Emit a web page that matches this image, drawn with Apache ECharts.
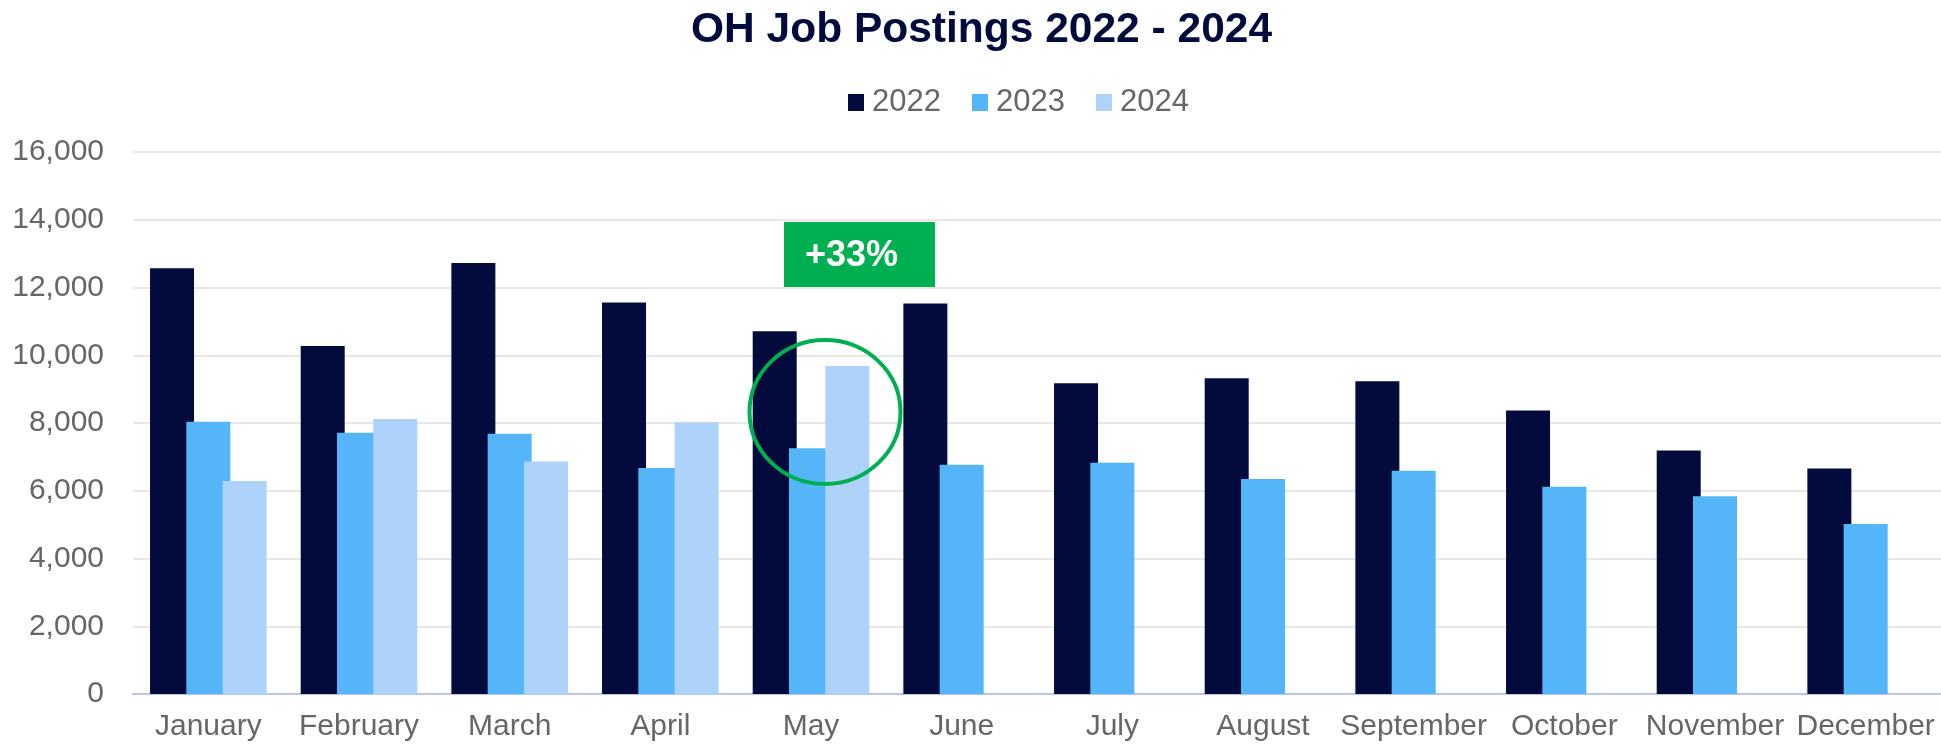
<!DOCTYPE html>
<html>
<head>
<meta charset="utf-8">
<script src="https://cdn.jsdelivr.net/npm/echarts@6/dist/echarts.min.js"></script>
<style>
html,body{margin:0;padding:0;background:#fff;}
#chart{width:1941px;height:744px;}
</style>
</head>
<body>
<div id="chart"></div>
<script>
const months = ['January','February','March','April','May','June','July','August','September','October','November','December'];
const seriesNames = ['2022','2023','2024'];
const values2022 = [12570, 10270, 12720, 11560, 10710, 11530, 9170, 9320, 9230, 8370, 7190, 6660];
const values2023 = [8040, 7710, 7680, 6670, 7255, 6770, 6830, 6350, 6590, 6120, 5840, 5020];
const values2024 = [6285, 8120, 6860, 8020, 9680];
const yTicks = {min: 0, max: 16000, interval: 2000};
const annotationText = '+33%';

const colors = ['#020b3b', '#55b5f9', '#add3fa'];
const font = 'Arial, "Liberation Sans", Helvetica, sans-serif';

const data2024 = months.map((m, i) => i < values2024.length ? values2024[i] : null);

const chart = echarts.init(document.getElementById('chart'));
chart.setOption({
  animation: false,
  backgroundColor: '#ffffff',
  title: {
    text: 'OH Job Postings 2022 - 2024',
    left: 686,
    top: 4,
    textStyle: {fontFamily: font, fontSize: 42.5, fontWeight: 'bold', color: '#020b3b'}
  },
  legend: {
    data: seriesNames,
    left: 843,
    top: 82,
    icon: 'rect',
    itemWidth: 16,
    itemHeight: 17,
    itemGap: 31,
    textStyle: {fontFamily: font, fontSize: 31, color: '#666666', padding: [0, 0, 0, 3]}
  },
  grid: {left: 133, right: 0, top: 152, bottom: 50, containLabel: false},
  xAxis: {
    type: 'category',
    data: months,
    axisLine: {lineStyle: {color: '#b8c4f8', width: 2}},
    axisTick: {show: false},
    axisLabel: {fontFamily: font, fontSize: 30, color: '#666666', margin: 18, interval: 0}
  },
  yAxis: {
    type: 'value',
    min: yTicks.min,
    max: yTicks.max,
    interval: yTicks.interval,
    axisLine: {show: false},
    axisTick: {show: false},
    splitLine: {lineStyle: {color: '#e0e0e0', width: 1.6}},
    axisLabel: {
      fontFamily: font, fontSize: 30, color: '#666666', margin: 29,
      formatter: v => v.toLocaleString('en-US')
    }
  },
  series: [
    {name: seriesNames[0], type: 'bar', data: values2022, barWidth: 44, barGap: '-17.5%', itemStyle: {color: colors[0]}},
    {name: seriesNames[1], type: 'bar', data: values2023, barWidth: 44, barGap: '-17.5%', itemStyle: {color: colors[1]}},
    {name: seriesNames[2], type: 'bar', data: data2024, barWidth: 44, barGap: '-17.5%', itemStyle: {color: colors[2]}}
  ],
  graphic: [
    {type: 'rect', shape: {x: 784, y: 222, width: 151, height: 65}, style: {fill: '#00b050'}, z: 100},
    {type: 'text', x: 805, y: 256, style: {text: annotationText, fill: '#ffffff', font: 'bold 36px ' + font, textVerticalAlign: 'middle', verticalAlign: 'middle'}, z: 101},
    {type: 'ellipse', shape: {cx: 825, cy: 412, rx: 75.5, ry: 72}, style: {fill: 'none', stroke: '#00b050', lineWidth: 4}, z: 100}
  ]
});
</script>
</body>
</html>
